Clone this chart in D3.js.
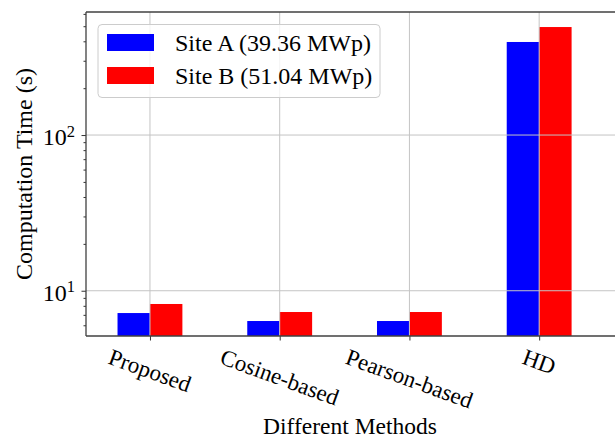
<!DOCTYPE html>
<html>
<head>
<meta charset="utf-8">
<script src="https://cdn.jsdelivr.net/npm/d3@7"></script>
<style>
  html, body { margin: 0; padding: 0; background: #fff; }
  text { font-family: "Liberation Serif", "Times New Roman", serif; fill: #000; }
</style>
</head>
<body>
<div id="main"></div>
<script>
// chart data
var methods = ["Proposed", "Cosine-based", "Pearson-based", "HD"];
var siteA = [7.19, 6.39, 6.39, 396];
var siteB = [8.22, 7.30, 7.30, 494];
var seriesNames = ["Site A (39.36 MWp)", "Site B (51.04 MWp)"];
var seriesColors = ["#0000ff", "#ff0000"];
var majorTicks = [10, 100];
var majorExp = ["1", "2"];
var minorTicks = [6, 7, 8, 9, 20, 30, 40, 50, 60, 70, 80, 90, 200, 300, 400, 500, 600];

function draw() {
  var width = 615, height = 438;
  var pLeft = 86, pRight = 617, pTop = 12, pBottom = 336;
  var barW = 0.25;
  var fontSize = 23;

  var svg = d3.select("#main").append("svg")
    .attr("width", width)
    .attr("height", height);

  var x = d3.scaleLinear().domain([-0.493, 3.6]).range([pLeft, pRight]);
  var y = d3.scaleLog().domain([5.12, 617]).range([pBottom, pTop]);

  // bars
  var series = [siteA, siteB];
  series.forEach(function(vals, s) {
    svg.append("g").selectAll("rect")
      .data(vals)
      .enter()
      .append("rect")
      .attr("x", function(d, i) { return x(i + (s - 1) * barW); })
      .attr("y", function(d) { return y(d); })
      .attr("width", x(barW) - x(0))
      .attr("height", function(d) { return pBottom - y(d); })
      .style("fill", seriesColors[s]);
  });

  // grid (drawn over the bars, like the reference)
  var grid = svg.append("g").attr("stroke", "#c4c4c4").attr("stroke-width", 1);
  grid.selectAll(".hg").data(majorTicks).enter().append("line")
    .attr("x1", pLeft).attr("x2", pRight)
    .attr("y1", function(d) { return y(d); })
    .attr("y2", function(d) { return y(d); });
  grid.selectAll(".vg").data(methods).enter().append("line")
    .attr("y1", pTop).attr("y2", pBottom)
    .attr("x1", function(d, i) { return x(i); })
    .attr("x2", function(d, i) { return x(i); });

  // y axis ticks
  var yAxis = d3.axisLeft(y).tickValues(majorTicks).tickSize(4.5).tickFormat("");
  var yMinor = d3.axisLeft(y).tickValues(minorTicks).tickSize(2.5).tickFormat("");
  [yAxis, yMinor].forEach(function(ax) {
    var g = svg.append("g").attr("transform", "translate(" + pLeft + ",0)").call(ax);
    g.select(".domain").remove();
    g.selectAll("line").attr("stroke", "#333").attr("stroke-width", 1);
  });

  // y tick labels as 10^n
  majorTicks.forEach(function(v, i) {
    var t = svg.append("text")
      .attr("x", 75)
      .attr("y", y(v) + 10)
      .attr("text-anchor", "end")
      .style("font-size", "24px");
    t.append("tspan").text("10");
    t.append("tspan").attr("dy", -8.5).style("font-size", "16.5px").text(majorExp[i]);
  });

  // x axis ticks
  var xAxis = d3.axisBottom(x).tickValues(d3.range(methods.length)).tickSize(4.5).tickFormat("");
  var gx = svg.append("g").attr("transform", "translate(0," + pBottom + ")").call(xAxis);
  gx.select(".domain").remove();
  gx.selectAll("line").attr("stroke", "#333").attr("stroke-width", 1);

  // rotated x tick labels
  var ang = 20 * Math.PI / 180;
  methods.forEach(function(m, i) {
    var g = svg.append("g");
    var t = g.append("text")
      .attr("text-anchor", "middle")
      .attr("y", 0.3375 * fontSize)
      .style("font-size", fontSize + "px")
      .text(m);
    var w = t.node().getComputedTextLength();
    var H = w * Math.sin(ang) + 1.107 * fontSize * Math.cos(ang);
    g.attr("transform", "translate(" + x(i) + "," + (344 + H / 2) + ") rotate(20)");
  });

  // spines
  var spine = svg.append("g").attr("stroke", "#404040").attr("stroke-width", 1.3);
  spine.append("line").attr("x1", pLeft).attr("x2", pLeft).attr("y1", pTop).attr("y2", pBottom);
  spine.append("line").attr("x1", pLeft).attr("x2", pRight).attr("y1", pBottom).attr("y2", pBottom);
  spine.append("line").attr("x1", pLeft).attr("x2", pRight).attr("y1", pTop).attr("y2", pTop);

  // axis titles
  svg.append("text")
    .attr("x", 350)
    .attr("y", 433.5)
    .attr("text-anchor", "middle")
    .style("font-size", "23.5px")
    .text("Different Methods");

  svg.append("text")
    .attr("transform", "translate(31.5," + (pTop + pBottom) / 2 + ") rotate(-90)")
    .attr("text-anchor", "middle")
    .style("font-size", "24px")
    .text("Computation Time (s)");

  // legend
  var lg = svg.append("g");
  lg.append("rect")
    .attr("x", 98).attr("y", 24.5)
    .attr("width", 282).attr("height", 73)
    .attr("rx", 4)
    .style("fill", "#fff").style("fill-opacity", 0.8)
    .style("stroke", "#cccccc").style("stroke-width", 1);
  seriesNames.forEach(function(name, i) {
    lg.append("rect")
      .attr("x", 107).attr("y", 34 + i * 33)
      .attr("width", 47).attr("height", 17)
      .style("fill", seriesColors[i]);
    lg.append("text")
      .attr("x", 175).attr("y", 50.5 + i * 33)
      .style("font-size", "24px")
      .text(name);
  });
}

draw();
</script>
</body>
</html>
